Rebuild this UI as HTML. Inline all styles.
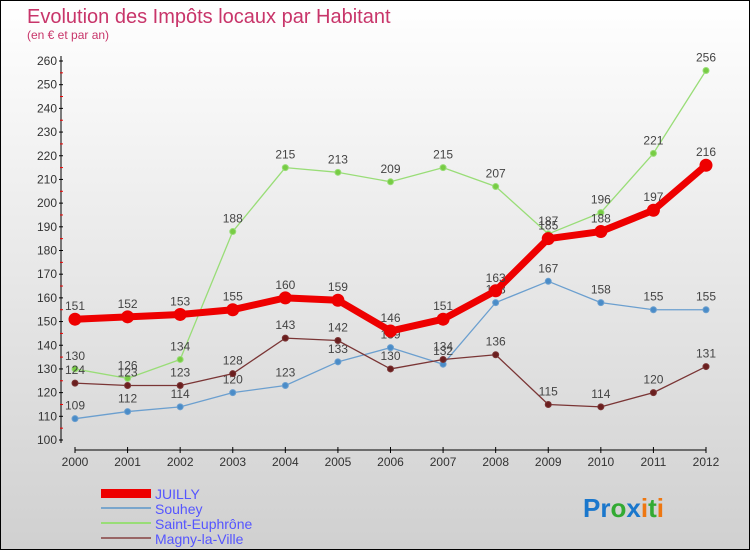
<!DOCTYPE html>
<html><head><meta charset="utf-8"><style>
html,body{margin:0;padding:0}
body{width:750px;height:550px;overflow:hidden;font-family:"Liberation Sans",sans-serif}
#wrap{position:relative;width:748px;height:548px;border:1px solid #000;background:linear-gradient(#ffffff,#d0d0d0)}
svg text{font-family:"Liberation Sans",sans-serif}
</style></head><body>
<div id="wrap">
<svg id="chart" width="748" height="548">
<text x="26" y="22" font-size="20" fill="#c8356a">Evolution des Impôts locaux par Habitant</text>
<text x="26" y="38" font-size="12" fill="#c8356a">(en € et par an)</text>
<g id="axes"></g><g id="series"></g>
<g>
<rect x="100" y="488" width="50" height="9" fill="#e00"/>
<text x="154" y="498" font-size="14" fill="#5555ff">JUILLY</text>
<rect x="100" y="506" width="50" height="2" fill="#7aa6cc"/>
<text x="154" y="513" font-size="14" fill="#5555ff">Souhey</text>
<rect x="100" y="521" width="50" height="2" fill="#99dd77"/>
<text x="154" y="528" font-size="14" fill="#5555ff">Saint-Euphrône</text>
<rect x="100" y="536" width="50" height="2" fill="#996666"/>
<text x="154" y="543" font-size="14" fill="#5555ff">Magny-la-Ville</text>
</g>
<text x="582" y="516" font-size="26" font-weight="bold"><tspan fill="#1a77cc">Pr</tspan><tspan fill="#33aa33">o</tspan><tspan fill="#1a77cc">x</tspan><tspan fill="#ee7711">i</tspan><tspan fill="#33aa33">t</tspan><tspan fill="#ee7711">i</tspan></text>
</svg></div>
<script>
const years=[2000,2001,2002,2003,2004,2005,2006,2007,2008,2009,2010,2011,2012];
const juilly=[151,152,153,155,160,159,146,151,163,185,188,197,216];
const souhey=[109,112,114,120,123,133,139,132,158,167,158,155,155];
const saintEuphrone=[130,126,134,188,215,213,209,215,207,187,196,221,256];
const magny=[124,123,123,128,143,142,130,134,136,115,114,120,131];
const yTicks=[100,110,120,130,140,150,160,170,180,190,200,210,220,230,240,250,260];
const NS="http://www.w3.org/2000/svg";
function X(i){return 74+i*(705-74)/(years.length-1);}
function Y(v){return 439-(v-100)*(439-60)/160;}
function mk(t,a,p){const e=document.createElementNS(NS,t);for(const k in a)e.setAttribute(k,a[k]);p.appendChild(e);return e;}
const ax=document.getElementById('axes');
let e=mk('line',{x1:60,y1:55,x2:60,y2:442,stroke:'#000'},ax);


e=mk('line',{x1:74,y1:449,x2:705,y2:449,stroke:'#000'},ax);


yTicks.forEach(v=>{
 mk('line',{x1:58,y1:Y(v),x2:62,y2:Y(v),stroke:'#000'},ax);
 if(v<260)mk('line',{x1:59,y1:Y(v+5),x2:62,y2:Y(v+5),stroke:'#e00'},ax);
 const t=mk('text',{x:56,y:Y(v)+4,'font-size':12,fill:'#333','text-anchor':'end'},ax);t.textContent=v;
 
 
});
years.forEach((y,i)=>{
 mk('line',{x1:X(i),y1:446,x2:X(i),y2:452,stroke:'#000'},ax);
 const t=mk('text',{x:X(i),y:465,'font-size':12,fill:'#333','text-anchor':'middle'},ax);t.textContent=y;
 
 
});
const sg=document.getElementById('series');
function draw(data,color,dot,w,r,name){
 const g=mk('g',{},sg);
 
 
 const pl=mk('polyline',{points:data.map((v,i)=>X(i)+','+Y(v)).join(' '),fill:'none',stroke:color,'stroke-width':w,'stroke-linejoin':'round'},g);
 
 
 data.forEach((v,i)=>{
  const c=mk('circle',{cx:X(i),cy:Y(v),r:r,fill:dot,stroke:color,'stroke-width':1},g);
  
  
  const t=mk('text',{x:X(i),y:Y(v)-9,'font-size':12,fill:'#444','text-anchor':'middle'},g);t.textContent=v;
  
  
 });
}
draw(souhey,'#6b9fcf','#4a8cc8',1.3,3,'souhey');
draw(saintEuphrone,'#99dd77','#77cc44',1.3,3,'saint-euphrone');
draw(magny,'#7a3535','#6b1f1f',1.3,3,'magny-la-ville');
draw(juilly,'#ee0000','#ee0000',7,6,'juilly');
</script>
</body></html>
